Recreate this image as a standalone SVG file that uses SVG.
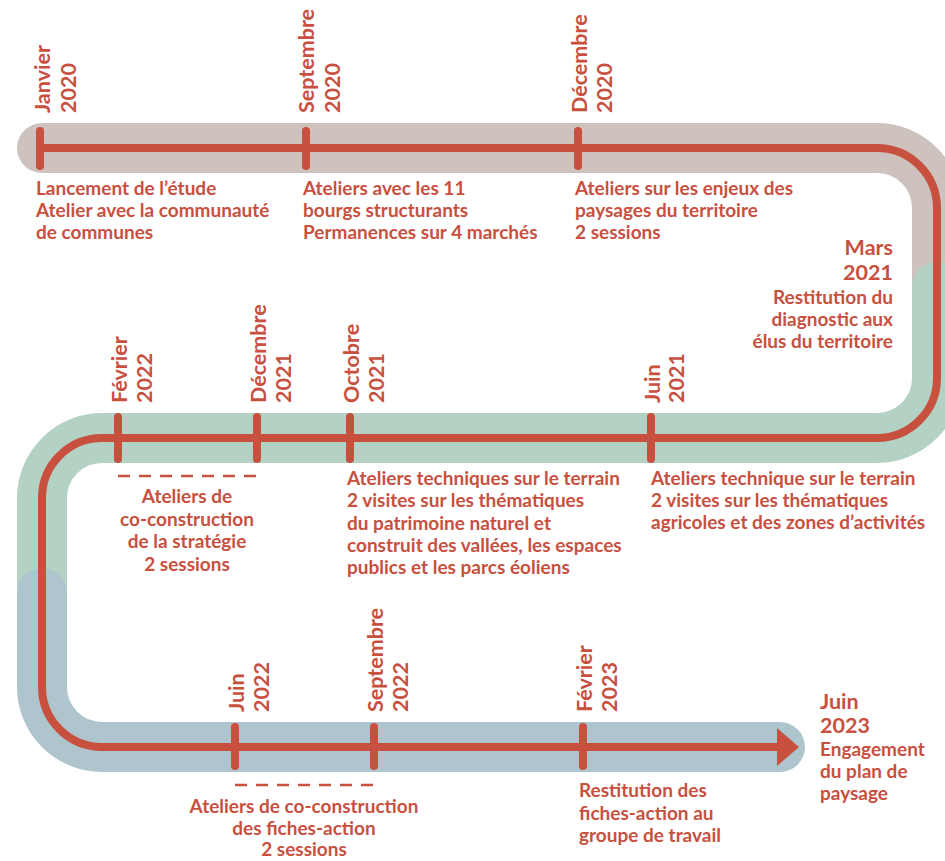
<svg xmlns="http://www.w3.org/2000/svg" width="945" height="861" viewBox="0 0 945 861">
<style>
text{font-family:Lato,"Liberation Sans",sans-serif;font-weight:bold;fill:#c8503f}
.d{font-size:21.5px}
.t{font-size:19px}
.tick{stroke:#c8503f;stroke-width:8;stroke-linecap:round;fill:none}
.dash{stroke:#c8503f;stroke-width:2.5;stroke-dasharray:12 9;fill:none}
.band{fill:none;stroke-width:50}
</style>
<rect width="945" height="861" fill="#ffffff"/>
<g id="connectors">
<path class="band" stroke="#cdc2bd" stroke-linecap="round" d="M42,148 H877 A60,60 0 0 1 937,208 V300"/>
<path class="band" stroke="#b4d2c3" stroke-linecap="round" d="M937,287 V378 A60,60 0 0 1 877,438 H102 A60,60 0 0 0 42,498 V620"/>
<path class="band" stroke="#aec5cd" stroke-linecap="round" d="M42,593 V687 A60,60 0 0 0 102,747 H780"/>
<path fill="none" stroke="#c8503f" stroke-width="8" d="M40,148 H877 A60,60 0 0 1 937,208 V378 A60,60 0 0 1 877,438 H102 A60,60 0 0 0 42,498 V687 A60,60 0 0 0 102,747 H779"/>
<polygon points="777,728 799,747 777,766" fill="#c8503f"/>
</g>
<g id="n-jan2020">
<line class="tick" x1="40" y1="131" x2="40" y2="166"/>
<text class="d" transform="translate(50,113) rotate(-90)">Janvier</text>
<text class="d" transform="translate(76,113) rotate(-90)">2020</text>
<text class="t" x="36" y="195">Lancement de l’étude</text>
<text class="t" x="36" y="217">Atelier avec la communauté</text>
<text class="t" x="36" y="239">de communes</text>
</g>
<g id="n-sep2020">
<line class="tick" x1="306" y1="131" x2="306" y2="166"/>
<text class="d" transform="translate(314,113) rotate(-90)">Septembre</text>
<text class="d" transform="translate(340,113) rotate(-90)">2020</text>
<text class="t" x="303" y="195">Ateliers avec les 11</text>
<text class="t" x="303" y="217">bourgs structurants</text>
<text class="t" x="303" y="239">Permanences sur 4 marchés</text>
</g>
<g id="n-dec2020">
<line class="tick" x1="578" y1="131" x2="578" y2="166"/>
<text class="d" transform="translate(587,113) rotate(-90)">Décembre</text>
<text class="d" transform="translate(612,113) rotate(-90)">2020</text>
<text class="t" x="575" y="195">Ateliers sur les enjeux des</text>
<text class="t" x="575" y="217">paysages du territoire</text>
<text class="t" x="575" y="239">2 sessions</text>
</g>
<g id="n-mar2021" text-anchor="end">
<text class="d" x="893" y="255">Mars</text>
<text class="d" x="893" y="280">2021</text>
<text class="t" x="893" y="304">Restitution du</text>
<text class="t" x="893" y="326">diagnostic aux</text>
<text class="t" x="893" y="348">élus du territoire</text>
</g>
<g id="n-jun2021">
<line class="tick" x1="651" y1="417" x2="651" y2="459"/>
<text class="d" transform="translate(660,403) rotate(-90)">Juin</text>
<text class="d" transform="translate(684,403) rotate(-90)">2021</text>
<text class="t" x="651" y="485">Ateliers technique sur le terrain</text>
<text class="t" x="651" y="507">2 visites sur les thématiques</text>
<text class="t" x="651" y="529">agricoles et des zones d’activités</text>
</g>
<g id="n-oct2021">
<line class="tick" x1="350" y1="417" x2="350" y2="459"/>
<text class="d" transform="translate(359,403) rotate(-90)">Octobre</text>
<text class="d" transform="translate(384,403) rotate(-90)">2021</text>
<text class="t" x="347" y="485">Ateliers techniques sur le terrain</text>
<text class="t" x="347" y="507">2 visites sur les thématiques</text>
<text class="t" x="347" y="530">du patrimoine naturel et</text>
<text class="t" x="347" y="552">construit des vallées, les espaces</text>
<text class="t" x="347" y="574">publics et les parcs éoliens</text>
</g>
<g id="n-dec2021">
<line class="tick" x1="257" y1="417" x2="257" y2="459"/>
<text class="d" transform="translate(266,403) rotate(-90)">Décembre</text>
<text class="d" transform="translate(291,403) rotate(-90)">2021</text>
</g>
<g id="n-fev2022">
<line class="tick" x1="118" y1="417" x2="118" y2="459"/>
<text class="d" transform="translate(127,403) rotate(-90)">Février</text>
<text class="d" transform="translate(152,403) rotate(-90)">2022</text>
<line class="dash" x1="118" y1="476" x2="259" y2="476"/>
<g text-anchor="middle">
<text class="t" x="187" y="503">Ateliers de</text>
<text class="t" x="187" y="526">co-construction</text>
<text class="t" x="187" y="548">de la stratégie</text>
<text class="t" x="187" y="571">2 sessions</text>
</g>
</g>
<g id="n-jun2022">
<line class="tick" x1="235" y1="727" x2="235" y2="766"/>
<text class="d" transform="translate(244,712) rotate(-90)">Juin</text>
<text class="d" transform="translate(269,712) rotate(-90)">2022</text>
<line class="dash" x1="235" y1="785" x2="376" y2="785"/>
<g text-anchor="middle">
<text class="t" x="304" y="813">Ateliers de co-construction</text>
<text class="t" x="304" y="835">des fiches-action</text>
<text class="t" x="304" y="856">2 sessions</text>
</g>
</g>
<g id="n-sep2022">
<line class="tick" x1="374" y1="727" x2="374" y2="766"/>
<text class="d" transform="translate(383,712) rotate(-90)">Septembre</text>
<text class="d" transform="translate(408,712) rotate(-90)">2022</text>
</g>
<g id="n-fev2023">
<line class="tick" x1="583" y1="727" x2="583" y2="766"/>
<text class="d" transform="translate(592,712) rotate(-90)">Février</text>
<text class="d" transform="translate(617,712) rotate(-90)">2023</text>
<text class="t" x="579" y="797">Restitution des</text>
<text class="t" x="579" y="820">fiches-action au</text>
<text class="t" x="579" y="842">groupe de travail</text>
</g>
<g id="n-jun2023">
<text class="d" x="820" y="709">Juin</text>
<text class="d" x="820" y="733">2023</text>
<text class="t" x="820" y="756">Engagement</text>
<text class="t" x="820" y="778">du plan de</text>
<text class="t" x="820" y="800">paysage</text>
</g>
</svg>
